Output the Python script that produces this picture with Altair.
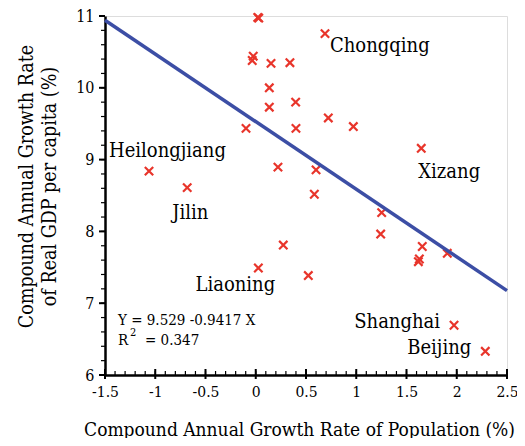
import altair as alt
import pandas as pd
import numpy as np

# ---- data ----
province = ["Heilongjiang", "Jilin", "", "", "", "", "", "", "", "", "", "", "", "",
            "Chongqing", "", "", "Xizang", "", "", "", "", "", "", "", "", "", "",
            "Shanghai", "Beijing", "Liaoning"]
pop_growth = [-1.062, -0.682, -0.097, -0.025, -0.035, 0.02, 0.03, 0.152, 0.34, 0.135,
              0.135, 0.397, 0.40, 0.221, 0.689, 0.722, 0.971, 1.647, 0.60, 0.583,
              1.253, 1.243, 1.657, 1.628, 1.618, 1.906, 0.523, 0.274, 1.973, 2.284, 0.026]
gdp_growth = [8.84, 8.61, 9.435, 10.44, 10.38, 10.98, 10.97, 10.34, 10.35, 10.0,
              9.73, 9.80, 9.435, 8.895, 10.755, 9.58, 9.46, 9.157, 8.857, 8.517,
              8.262, 7.963, 7.79, 7.616, 7.578, 7.695, 7.385, 7.81, 6.693, 6.33, 7.49]
intercept = 9.529
slope = -0.9417
x_ticks = [-1.5, -1, -0.5, 0, 0.5, 1, 1.5, 2, 2.5]
y_ticks = [6, 7, 8, 9, 10, 11]

W, H = 402, 359
FONT = "'DejaVu Serif Condensed', 'DejaVu Serif', serif"

df = pd.DataFrame({"province": province, "x": pop_growth, "y": gdp_growth})
line_x = [x_ticks[0], x_ticks[-1]]
line_df = pd.DataFrame({"x": line_x, "y": [intercept + slope * v for v in line_x]})

x_minor = [round(v, 2) for v in np.arange(-1.5, 2.5001, 0.1)]
y_minor = [round(v, 2) for v in np.arange(6, 11.001, 0.2)]
xmin_df = pd.DataFrame({"v": x_minor})
xmaj_df = pd.DataFrame({"v": x_ticks})
ymin_df = pd.DataFrame({"v": y_minor})
ymaj_df = pd.DataFrame({"v": y_ticks})

xscale = alt.Scale(domain=[-1.5, 2.5], nice=False, zero=False)
yscale = alt.Scale(domain=[6, 11], nice=False, zero=False)

xaxis = alt.Axis(values=x_ticks, ticks=False, grid=False, labelExpr="toString(datum.value)",
                 labelFlush=False, labelOverlap=False,
                 labelFontSize=15.5, labelPadding=9, labelColor="black", labelFont=FONT,
                 domainColor="black", domainWidth=2.5,
                 title="Compound Annual Growth Rate of Population (%)",
                 titleFontSize=19, titleFont=FONT, titleFontWeight="normal", titleColor="black",
                 titleX=194, titleY=60, titleAlign="center", titleBaseline="alphabetic")
yaxis = alt.Axis(values=y_ticks, ticks=False, grid=False, labelExpr="toString(datum.value)",
                 labelFlush=False, labelOverlap=False,
                 labelFontSize=16, labelPadding=11, labelColor="black", labelFont=FONT,
                 domainColor="black", domainWidth=2.5,
                 title=["Compound Annual Growth Rate", "of Real GDP per capita  (%)"],
                 titleFontSize=19.5, titleFont=FONT, titleFontWeight="normal", titleColor="black",
                 titleLineHeight=23, titleAngle=-90, titleX=-73, titleY=170,
                 titleAlign="center", titleBaseline="alphabetic")

base_pts = alt.Chart(df).mark_point(
    shape="M-1,-1L1,1M-1,1L1,-1", filled=False, size=70, strokeWidth=2.2,
    color="#e8352b", opacity=1
).encode(x=alt.X("x:Q", scale=xscale, axis=xaxis), y=alt.Y("y:Q", scale=yscale, axis=yaxis))

reg_line = alt.Chart(line_df).mark_line(color="#3c4ea5", strokeWidth=3.5).encode(
    x=alt.X("x:Q", scale=xscale), y=alt.Y("y:Q", scale=yscale))

# tick marks
x_minor_ticks = alt.Chart(xmin_df).mark_rule(color="black", strokeWidth=1.2).encode(
    x=alt.X("v:Q", scale=xscale), y=alt.value(H), y2=alt.value(H - 4))
x_major_ticks = alt.Chart(xmaj_df).mark_rule(color="black", strokeWidth=2).encode(
    x=alt.X("v:Q", scale=xscale), y=alt.value(H + 4), y2=alt.value(H - 6))
y_minor_ticks = alt.Chart(ymin_df).mark_rule(color="black", strokeWidth=1.2).encode(
    y=alt.Y("v:Q", scale=yscale), x=alt.value(-4), x2=alt.value(0))
y_major_ticks = alt.Chart(ymaj_df).mark_rule(color="black", strokeWidth=2).encode(
    y=alt.Y("v:Q", scale=yscale), x=alt.value(-6), x2=alt.value(0))

# province labels
label_style = {
    "Heilongjiang": ("left", -40, -14),
    "Jilin": ("center", 3, 31),
    "Liaoning": ("center", -23, 23),
    "Chongqing": ("left", 5, 18),
    "Xizang": ("left", -3, 30),
    "Shanghai": ("right", -14, 3),
    "Beijing": ("right", -14, 3),
}
label_layers = []
for name, (align, dx, dy) in label_style.items():
    sub = df[df["province"] == name]
    label_layers.append(
        alt.Chart(sub).mark_text(align=align, baseline="alphabetic", dx=dx, dy=dy,
                                 fontSize=20, font=FONT, color="black").encode(
            x=alt.X("x:Q", scale=xscale), y=alt.Y("y:Q", scale=yscale), text="province:N")
    )

eq_df = pd.DataFrame({"t": ["Y = 9.529 -0.9417 X"]})
eq1 = alt.Chart(eq_df).mark_text(align="left", baseline="alphabetic", fontSize=15, font=FONT,
                                 color="black").encode(x=alt.value(13), y=alt.value(309), text="t:N")
r_df = pd.DataFrame({"t": ["R"]})
eq2 = alt.Chart(r_df).mark_text(align="left", baseline="alphabetic", fontSize=15, font=FONT,
                                color="black").encode(x=alt.value(13), y=alt.value(329), text="t:N")
two_df = pd.DataFrame({"t": ["2"]})
eq3 = alt.Chart(two_df).mark_text(align="left", baseline="alphabetic", fontSize=11, font=FONT,
                                  color="black").encode(x=alt.value(25), y=alt.value(320), text="t:N")
val_df = pd.DataFrame({"t": ["= 0.347"]})
eq4 = alt.Chart(val_df).mark_text(align="left", baseline="alphabetic", fontSize=15, font=FONT,
                                  color="black").encode(x=alt.value(40), y=alt.value(329), text="t:N")

chart = alt.layer(
    base_pts, reg_line, x_minor_ticks, x_major_ticks, y_minor_ticks, y_major_ticks,
    *label_layers, eq1, eq2, eq3, eq4
).properties(
    width=W, height=H,
    autosize=alt.AutoSizeParams(type="none"),
    padding={"left": 97, "top": 8, "right": 10, "bottom": 63},
).configure_view(stroke="black", strokeWidth=2).configure(background="white")

chart.save("out.html", embed_options={"renderer": "svg", "actions": False})
